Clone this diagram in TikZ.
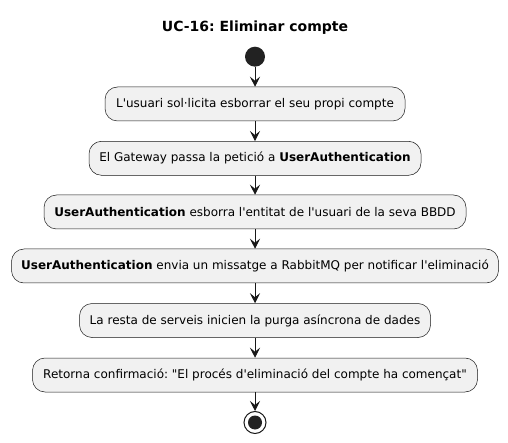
\documentclass[tikz,border=0pt]{standalone}
\usepackage{fontspec}
\setmainfont{DejaVu Sans}[Ligatures=TeXOff]
\usetikzlibrary{arrows.meta}
\frenchspacing

\definecolor{actfill}{HTML}{F1F1F1}
\definecolor{actline}{HTML}{181818}
\definecolor{dotfill}{HTML}{222222}

\begin{document}
\begin{tikzpicture}[
    x=1pt, y=-1pt,
    every node/.style={font=\fontsize{12}{14}\selectfont},
    >={Stealth[length=10pt,width=10pt,inset=4pt]},
    action/.style={draw=actline, fill=actfill, rounded corners=12.5pt,
        minimum height=34pt, inner xsep=0pt, line width=0.5pt},
    flow/.style={->, draw=actline, line width=0.9pt},
]
\useasboundingbox (0,0) rectangle (508,443);

% === Layout ===
\def\midX{255}

% Title
\node[font=\fontsize{14}{16}\selectfont\bfseries] (title) at (\midX,28) {UC-16: Eliminar compte};

% Start point
\node[circle, fill=dotfill, minimum size=20pt, inner sep=0pt] (start) at (\midX,56.7) {};

% === Actions ===
\node[action, minimum width=300pt] (peticio) at (\midX,104)
    {L'usuari sol·licita esborrar el seu propi compte};
\node[action, minimum width=332pt] (gateway) at (\midX,158.3)
    {El Gateway passa la petició a \textbf{UserAuthentication}};
\node[action, minimum width=422pt] (esborra) at (\midX,212)
    {\textbf{UserAuthentication} esborra l'entitat de l'usuari de la seva BBDD};
\node[action, minimum width=487pt] (missatge) at (\midX,266)
    {\textbf{UserAuthentication} envia un missatge a RabbitMQ per notificar l'eliminació};
\node[action, minimum width=351pt] (purga) at (\midX,320.5)
    {La resta de serveis inicien la purga asíncrona de dades};
\node[action, minimum width=445pt] (retorna) at (\midX,375)
    {Retorna confirmació: "El procés d'eliminació del compte ha començat"};

% End point
\node[circle, draw=actline, line width=1pt, minimum size=22pt, inner sep=0pt] (stop) at (\midX,422.5) {};
\fill[dotfill] (stop.center) circle (7pt);

% === Flow ===
\foreach \from/\to in {start/peticio, peticio/gateway, gateway/esborra,
    esborra/missatge, missatge/purga, purga/retorna, retorna/stop} {
    \draw[flow] (\from) -- (\to);
}

\end{tikzpicture}
\end{document}
